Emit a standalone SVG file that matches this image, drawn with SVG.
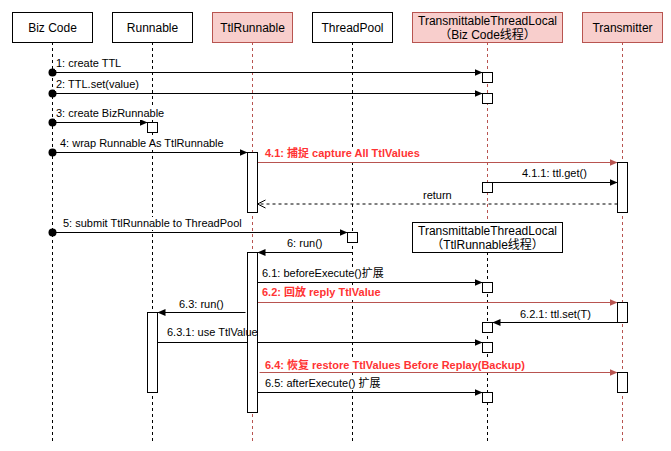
<svg xmlns="http://www.w3.org/2000/svg" width="671" height="451" viewBox="0 0 671 451">
<style>
.hdr{fill:#fff;stroke:#000;stroke-width:1}
.hdrR{fill:#f8cecc;stroke:#b85450;stroke-width:1}
.ht{font-family:"Liberation Sans","Noto Sans CJK SC",sans-serif;font-size:12px;fill:#000;text-anchor:middle}
.ll{stroke:#000;stroke-width:1;stroke-dasharray:3 3;fill:none}
.llR{stroke:#b85450;stroke-width:1;stroke-dasharray:3 3;fill:none}
.act{fill:#fff;stroke:#000;stroke-width:1}
.m{stroke:#000;stroke-width:1;fill:none}
.mR{stroke:#b85450;stroke-width:1;fill:none}
.ret{stroke:#000;stroke-width:1;fill:none;stroke-dasharray:3 3}
.t{font-family:"Liberation Sans","Noto Sans CJK SC",sans-serif;font-size:11px;fill:#000}
.tR{font-family:"Liberation Sans","Noto Sans CJK SC",sans-serif;font-size:11px;fill:#ff3333;font-weight:bold}
.bg{fill:#fff;stroke:none}
.dot{fill:#000}
</style>
<defs>
<marker id="blk" markerWidth="8" markerHeight="8" viewBox="0 0 8 8" refX="8" refY="4" orient="auto" markerUnits="userSpaceOnUse"><path d="M0,0.5 L8,4 L0,7.5 Z" fill="#000"/></marker>
<marker id="blkR" markerWidth="8" markerHeight="8" viewBox="0 0 8 8" refX="8" refY="4" orient="auto" markerUnits="userSpaceOnUse"><path d="M0,0.5 L8,4 L0,7.5 Z" fill="#b85450"/></marker>
<marker id="open" markerWidth="10" markerHeight="10" viewBox="0 0 10 10" refX="9" refY="5" orient="auto" markerUnits="userSpaceOnUse"><path d="M1,1 L9,5 L1,9" fill="none" stroke="#000" stroke-width="1"/></marker>
</defs>

<g id="lifelines">
<line class="ll" x1="52.5" y1="42" x2="52.5" y2="442"/>
<line class="ll" x1="152.5" y1="42" x2="152.5" y2="442"/>
<line class="llR" x1="252.5" y1="42" x2="252.5" y2="442"/>
<line class="ll" x1="352.5" y1="42" x2="352.5" y2="442"/>
<line class="llR" x1="487.5" y1="42" x2="487.5" y2="222"/>
<line class="ll" x1="487.5" y1="252" x2="487.5" y2="442"/>
<line class="llR" x1="622.5" y1="42" x2="622.5" y2="442"/>
</g>

<g id="node-bizcode"><rect class="hdr" x="12.5" y="12.5" width="80" height="30"/><text class="ht" x="52.5" y="31.5">Biz Code</text></g>
<g id="node-runnable"><rect class="hdr" x="112.5" y="12.5" width="80" height="30"/><text class="ht" x="152.5" y="31.5">Runnable</text></g>
<g id="node-ttlrunnable"><rect class="hdrR" x="212.5" y="12.5" width="80" height="30"/><text class="ht" x="252.5" y="31.5">TtlRunnable</text></g>
<g id="node-threadpool"><rect class="hdr" x="312.5" y="12.5" width="80" height="30"/><text class="ht" x="352.5" y="31.5">ThreadPool</text></g>
<g id="node-ttl-biz"><rect class="hdrR" x="412.5" y="12.5" width="150" height="30"/><text class="ht" x="487.5" y="25">TransmittableThreadLocal</text><text class="ht" x="487.5" y="38.5">（Biz Code线程）</text></g>
<g id="node-transmitter"><rect class="hdrR" x="582.5" y="12.5" width="80" height="30"/><text class="ht" x="622.5" y="31.5">Transmitter</text></g>
<g id="node-ttl-run"><rect class="hdr" x="412.5" y="222.5" width="150" height="30"/><text class="ht" x="487.5" y="235">TransmittableThreadLocal</text><text class="ht" x="487.5" y="248.5">（TtlRunnable线程）</text></g>

<g id="connectors">
<line class="m" x1="52.5" y1="72.5" x2="482.5" y2="72.5" marker-end="url(#blk)"/>
<circle class="dot" cx="52.5" cy="72.5" r="4"/>
<line class="m" x1="52.5" y1="93.5" x2="482.5" y2="93.5" marker-end="url(#blk)"/>
<circle class="dot" cx="52.5" cy="93.5" r="4"/>
<line class="m" x1="52.5" y1="122.5" x2="147.5" y2="122.5" marker-end="url(#blk)"/>
<circle class="dot" cx="52.5" cy="122.5" r="4"/>
<line class="m" x1="52.5" y1="152.5" x2="247.5" y2="152.5" marker-end="url(#blk)"/>
<circle class="dot" cx="52.5" cy="152.5" r="4"/>
<line class="mR" x1="257.5" y1="162.5" x2="617.5" y2="162.5" marker-end="url(#blkR)"/>
<line class="m" x1="492.5" y1="182.5" x2="617.5" y2="182.5" marker-end="url(#blk)"/>
<line class="ret" x1="617.5" y1="204" x2="257.5" y2="204" marker-end="url(#open)"/>
<line class="m" x1="52.5" y1="232.5" x2="347.5" y2="232.5" marker-end="url(#blk)"/>
<circle class="dot" cx="52.5" cy="232.5" r="4"/>
<line class="m" x1="352.5" y1="252.5" x2="257.5" y2="252.5" marker-end="url(#blk)"/>
<line class="m" x1="257.5" y1="282.5" x2="482.5" y2="282.5" marker-end="url(#blk)"/>
<line class="mR" x1="257.5" y1="302.5" x2="617.5" y2="302.5" marker-end="url(#blkR)"/>
<line class="m" x1="617.5" y1="322.5" x2="492.5" y2="322.5" marker-end="url(#blk)"/>
<line class="m" x1="245.5" y1="312.5" x2="157.5" y2="312.5" marker-end="url(#blk)"/>
<line class="m" x1="157.5" y1="342.5" x2="482.5" y2="342.5" marker-end="url(#blk)"/>
<line class="mR" x1="259.5" y1="372.5" x2="617.5" y2="372.5" marker-end="url(#blkR)"/>
<line class="m" x1="257.5" y1="392.5" x2="482.5" y2="392.5" marker-end="url(#blk)"/>
</g>

<g id="activations">
<rect class="act" x="482.5" y="72.5" width="10" height="10"/>
<rect class="act" x="482.5" y="93.5" width="10" height="10"/>
<rect class="act" x="147.5" y="122.5" width="10" height="10"/>
<rect class="act" x="247.5" y="152.5" width="10" height="60"/>
<rect class="act" x="617.5" y="162.5" width="10" height="50"/>
<rect class="act" x="482.5" y="182.5" width="10" height="10"/>
<rect class="act" x="347.5" y="232.5" width="10" height="10"/>
<rect class="act" x="247.5" y="252.5" width="10" height="160"/>
<rect class="act" x="482.5" y="282.5" width="10" height="10"/>
<rect class="act" x="617.5" y="302.5" width="10" height="20"/>
<rect class="act" x="147.5" y="312.5" width="10" height="80"/>
<rect class="act" x="482.5" y="322.5" width="10" height="10"/>
<rect class="act" x="482.5" y="342.5" width="10" height="10"/>
<rect class="act" x="617.5" y="372.5" width="10" height="20"/>
<rect class="act" x="482.5" y="392.5" width="10" height="10"/>
</g>

<g id="connector-labels">
<rect class="bg" x="55" y="57" width="67" height="13"/>
<text class="t" x="56" y="67">1: create TTL</text>
<rect class="bg" x="55" y="78" width="86" height="13"/>
<text class="t" x="56" y="88">2: TTL.set(value)</text>
<rect class="bg" x="55" y="107" width="110" height="13"/>
<text class="t" x="56" y="117">3: create BizRunnable</text>
<rect class="bg" x="59" y="137" width="166" height="13"/>
<text class="t" x="60" y="147">4: wrap Runnable As TtlRunnable</text>
<rect class="bg" x="264" y="147" width="157" height="13"/>
<text class="tR" x="265" y="157">4.1: 捕捉 capture All TtlValues</text>
<text class="t" x="522" y="177">4.1.1: ttl.get()</text>
<text class="t" x="423" y="198.5">return</text>
<rect class="bg" x="62" y="217" width="181" height="13"/>
<text class="t" x="63" y="227">5: submit TtlRunnable to ThreadPool</text>
<text class="t" x="287" y="247">6: run()</text>
<rect class="bg" x="261" y="267" width="124" height="13"/>
<text class="t" x="262" y="277">6.1: beforeExecute()扩展</text>
<rect class="bg" x="261" y="286" width="121" height="13"/>
<text class="tR" x="262" y="296">6.2: 回放 reply TtlValue</text>
<text class="t" x="520" y="317.5">6.2.1: ttl.set(T)</text>
<text class="t" x="179" y="307.5">6.3: run()</text>
<text class="t" x="167" y="336">6.3.1: use TtlValue</text>
<rect class="bg" x="264" y="358" width="261" height="13"/>
<text class="tR" x="265" y="368.5">6.4: 恢复 restore TtlValues Before Replay(Backup)</text>
<rect class="bg" x="264" y="377" width="118" height="13"/>
<text class="t" x="265" y="387">6.5: afterExecute() 扩展</text>
</g>
</svg>
